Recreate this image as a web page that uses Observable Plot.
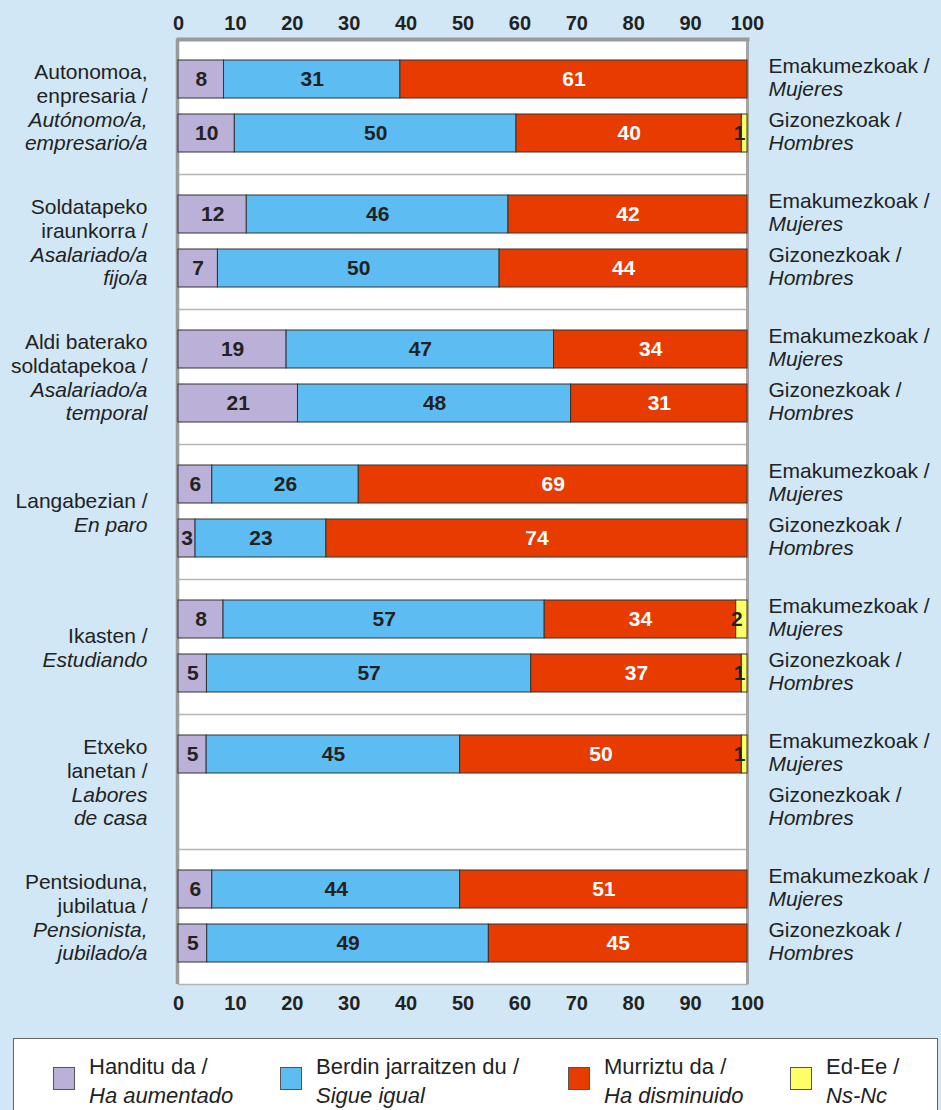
<!DOCTYPE html>
<html><head><meta charset="utf-8">
<script src="https://cdn.jsdelivr.net/npm/d3@7"></script>
<script src="https://cdn.jsdelivr.net/npm/@observablehq/plot@0.6"></script>
<style>
html,body{margin:0;padding:0;background:#d1e7f5;}
body{width:941px;height:1110px;overflow:hidden;position:relative;font-family:"Liberation Sans",Arial,sans-serif;}
#chart{position:absolute;left:0;top:0;}
#legend{position:absolute;left:13px;top:1038px;width:925px;height:90px;background:#fff;border:1px solid #666;box-sizing:border-box;}
.sw{position:absolute;top:28px;width:20px;height:21px;border:1px solid #555;}
.lt{position:absolute;top:13px;font-size:22px;line-height:29px;color:#222;white-space:nowrap;}
.lt i{font-style:italic;}
</style></head><body>
<div id="chart"></div>
<div id="legend"></div>
<script>
// ---- data ----
const groupKeys = ["autonomo","fijo","temporal","paro","estudiando","labores","pensionista"];
const groupEu = ["Autonomoa,\nenpresaria /","Soldatapeko\niraunkorra /","Aldi baterako\nsoldatapekoa /","Langabezian /","Ikasten /","Etxeko\nlanetan /","Pentsioduna,\njubilatua /"];
const groupEs = ["Autónomo/a,\nempresario/a","Asalariado/a\nfijo/a","Asalariado/a\ntemporal","En paro","Estudiando","Labores\nde casa","Pensionista,\njubilado/a"];
const sexKeys = ["Emakumezkoak","Gizonezkoak"];
const sexEu = ["Emakumezkoak /","Gizonezkoak /"];
const sexEs = ["Mujeres","Hombres"];
const categories = ["handitu","berdin","murriztu","nsnc"];
const categoryEu = ["Handitu da /","Berdin jarraitzen du /","Murriztu da /","Ed-Ee /"];
const categoryEs = ["Ha aumentado","Sigue igual","Ha disminuido","Ns-Nc"];
const colors = ["#bbb0d8","#5dbdf3","#e83b00","#ffff66"];
// one value per row: [Mujeres, Hombres] for each group; null = no data
const handitu  = [8,10, 12,7, 19,21, 6,3,   8,5,   5,null, 6,5];
const berdin   = [31,50, 46,50, 47,48, 26,23, 57,57, 45,null, 44,49];
const murriztu = [61,40, 42,44, 34,31, 69,74, 34,37, 50,null, 51,45];
const nsnc     = [0,1,  0,0,   0,0,   0,0,   2,1,   1,null, 0,0];
const xTicks = [0,10,20,30,40,50,60,70,80,90,100];

// ---- build tables ----
const series = [handitu, berdin, murriztu, nsnc];
const rows = [];
groupKeys.forEach((g, gi) => sexKeys.forEach((s, si) => rows.push({group: g, sex: s, eu: sexEu[si], es: sexEs[si]})));
const data = [];
rows.forEach((r, i) => categories.forEach((c, ci) => {
  const v = series[ci][i];
  if (v != null && v > 0) data.push({group: r.group, sex: r.sex, cat: c, value: v});
}));
const groupLabels = groupKeys.map((g, i) => ({group: g, eu: groupEu[i], es: groupEs[i]}));

const st = (o) => Plot.stackX({x: "value", y: "sex", fy: "group", offset: "normalize", ...o});
const lab = {fontSize: 21, fontWeight: "bold"};

const chart = Plot.plot({
  width: 941,
  height: 1030,
  marginTop: 38,
  marginBottom: 45,
  marginLeft: 178,
  marginRight: 194,
  style: {background: "transparent", fontFamily: "'Liberation Sans', Arial, sans-serif", fontSize: "21px", color: "#222"},
  x: {domain: [0, 100], percent: true, axis: null},
  y: {domain: sexKeys, axis: null, paddingInner: 0.29, paddingOuter: 0.375},
  fy: {domain: groupKeys, axis: null, padding: 0},
  color: {domain: categories, range: colors},
  marks: [
    Plot.frame({fill: "white", stroke: null}),
    Plot.frame({anchor: "bottom", stroke: "#b4b4b4", strokeWidth: 1.5}),
    Plot.ruleX([0], {stroke: "#9a9a9a", strokeWidth: 3.5, dx: -1}),
    Plot.ruleX([1], {stroke: "#a5a5a5", strokeWidth: 3}),
    Plot.frame({anchor: "top", fy: groupKeys[0], stroke: "#9a9a9a", strokeWidth: 4}),
    Plot.barX(data, st({fill: "cat", stroke: "#333", strokeWidth: 1})),
    Plot.text(data, st({text: d => d.cat === "murriztu" ? d.value : null, fill: "white", ...lab})),
    Plot.text(data, st({text: d => (d.cat === "handitu" || d.cat === "berdin") ? d.value : null, fill: "#222", ...lab})),
    Plot.text(data, st({text: d => d.cat === "nsnc" ? d.value : null, fill: "#222", dx: -5, ...lab})),
    Plot.text(groupLabels, {fy: "group", text: "eu", frameAnchor: "left", textAnchor: "end", lineAnchor: "bottom", dx: -31, dy: -4.5, lineHeight: 1.14, fontSize: 21, fill: "#222"}),
    Plot.text(groupLabels, {fy: "group", text: "es", frameAnchor: "left", textAnchor: "end", lineAnchor: "top", dx: -31, dy: 2.5, lineHeight: 1.14, fontSize: 21, fontStyle: "italic", fill: "#222"}),
    Plot.text(rows, {fy: "group", y: "sex", text: "eu", frameAnchor: "right", textAnchor: "start", lineAnchor: "bottom", dx: 21, dy: -7, fontSize: 21, fill: "#222"}),
    Plot.text(rows, {fy: "group", y: "sex", text: "es", frameAnchor: "right", textAnchor: "start", lineAnchor: "top", dx: 21, dy: 2, fontSize: 21, fontStyle: "italic", fill: "#222"}),
    Plot.axisX({anchor: "top", ticks: xTicks, tickSize: 0, tickPadding: 10, fontSize: 20, fontWeight: "bold", fill: "#222", label: null}),
    Plot.axisX({anchor: "bottom", ticks: xTicks, tickSize: 0, tickPadding: 11, fontSize: 20, fontWeight: "bold", fill: "#222", label: null})
  ]
});
document.getElementById("chart").appendChild(chart);

// ---- legend ----
const legend = document.getElementById("legend");
const swX = [39, 266, 554, 776];
categories.forEach((c, i) => {
  const sw = document.createElement("div");
  sw.className = "sw";
  sw.style.left = swX[i] + "px";
  sw.style.background = colors[i];
  legend.appendChild(sw);
  const t = document.createElement("div");
  t.className = "lt";
  t.style.left = (swX[i] + 36) + "px";
  t.innerHTML = categoryEu[i] + "<br><i>" + categoryEs[i] + "</i>";
  legend.appendChild(t);
});
</script>
</body></html>
